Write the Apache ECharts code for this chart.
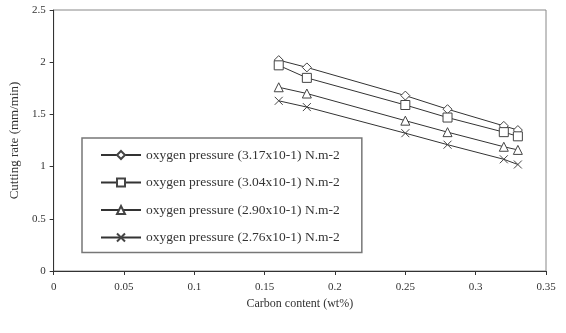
<!DOCTYPE html>
<html>
<head>
<meta charset="utf-8">
<script src="https://cdn.jsdelivr.net/npm/echarts@6/dist/echarts.min.js"></script>
<style>
  html, body { margin: 0; padding: 0; background: #fff; }
  #mainChart { width: 566px; height: 333px; }
</style>
</head>
<body>
<div id="mainChart"></div>
<script>
var carbon = [0.16, 0.18, 0.25, 0.28, 0.32, 0.33];
var legends = [
    'oxygen pressure (3.17x10-1) N.m-2',
    'oxygen pressure (3.04x10-1) N.m-2',
    'oxygen pressure (2.90x10-1) N.m-2',
    'oxygen pressure (2.76x10-1) N.m-2'
];
var rate317 = [2.02, 1.95, 1.68, 1.55, 1.39, 1.35];
var rate304 = [1.97, 1.85, 1.59, 1.47, 1.33, 1.29];
var rate290 = [1.76, 1.70, 1.44, 1.33, 1.19, 1.16];
var rate276 = [1.63, 1.57, 1.32, 1.21, 1.07, 1.02];

var symbols = ['diamond', 'rect', 'triangle', 'path://M0,0L10,10M10,0L0,10'];
var allRates = [rate317, rate304, rate290, rate276];

function pairs(ys) {
    var out = [];
    for (var i = 0; i < carbon.length; i++) {
        out.push([carbon[i], ys[i]]);
    }
    return out;
}

var series = [];
for (var k = 0; k < allRates.length; k++) {
    series.push({
        name: legends[k],
        type: 'line',
        data: pairs(allRates[k]),
        symbol: symbols[k],
        symbolSize: k === 3 ? 8 : 9,
        showAllSymbol: true,
        lineStyle: {color: '#333', width: 1},
        itemStyle: {color: '#fff', borderColor: '#444', borderWidth: 1}
    });
}

var labelFont = {fontFamily: 'Liberation Serif', fontSize: 11, color: '#333'};

var myChart = echarts.init(document.getElementById('mainChart'));
myChart.setOption({
    animation: false,
    grid: {
        left: 52, top: 10, right: 20, bottom: 62,
        show: true,
        borderColor: '#888',
        borderWidth: 1
    },
    legend: {
        data: legends,
        orient: 'vertical',
        left: 82,
        top: 138,
        itemWidth: 40,
        itemHeight: 10,
        itemGap: 13.5,
        padding: [10, 22, 8, 18],
        borderColor: '#777',
        borderWidth: 1.5,
        textStyle: {fontFamily: 'Liberation Serif', fontSize: 13.5, color: '#333'}
    },
    xAxis: {
        type: 'value',
        min: 0, max: 0.35, interval: 0.05,
        name: 'Carbon content (wt%)',
        nameLocation: 'middle',
        nameGap: 20,
        nameTextStyle: {fontFamily: 'Liberation Serif', fontSize: 12, color: '#333'},
        axisLine: {lineStyle: {color: '#333'}},
        axisTick: {show: true, length: 4, lineStyle: {color: '#333'}},
        axisLabel: {fontFamily: 'Liberation Serif', fontSize: 11, color: '#333', margin: 11},
        splitLine: {show: false}
    },
    yAxis: {
        type: 'value',
        min: 0, max: 2.5, interval: 0.5,
        name: 'Cutting rate (mm/min)',
        nameLocation: 'middle',
        nameGap: 24,
        nameTextStyle: {fontFamily: 'Liberation Serif', fontSize: 13, color: '#333'},
        axisLine: {show: true, lineStyle: {color: '#333'}},
        axisTick: {show: true, length: 4, lineStyle: {color: '#333'}},
        axisLabel: labelFont,
        splitLine: {show: false}
    },
    series: series
});
</script>
</body>
</html>
